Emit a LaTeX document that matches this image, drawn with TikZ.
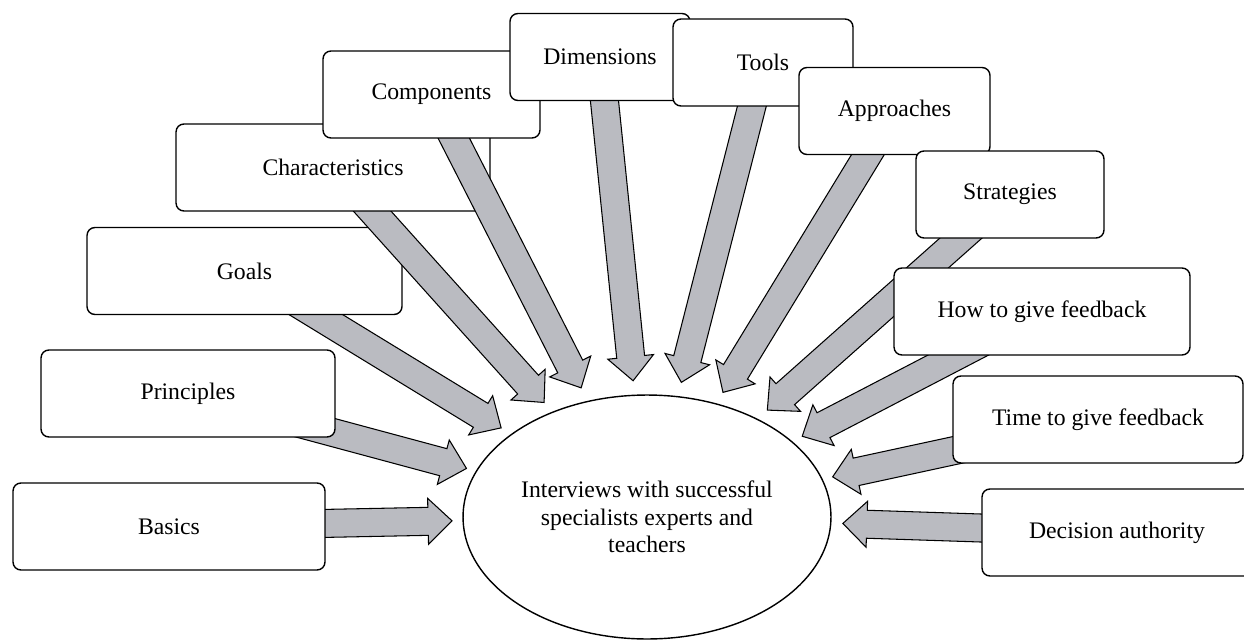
\documentclass[tikz,border=0pt]{standalone}
\usepackage{fontspec}
\setmainfont{Liberation Serif}
\usetikzlibrary{shapes.geometric,calc}

\definecolor{arrowgray}{RGB}{186,187,193}

% fat arrow from #1 towards node #2, tip #3 away from the centre of #2
\newcommand{\feedarrow}[3]{%
  \coordinate (tip) at ($(#2.center)!#3!(#1)$);
  \coordinate (neck) at ($(tip)!0.48cm!(#1)$);
  \draw[feed] ($(#1)!0.28cm!90:(tip)$) -- ($(neck)!0.28cm!90:(tip)$)
      -- ($(neck)!0.46cm!90:(tip)$) -- (tip)
      -- ($(neck)!0.46cm!-90:(tip)$) -- ($(neck)!0.28cm!-90:(tip)$)
      -- ($(#1)!0.28cm!-90:(tip)$) -- cycle;
}

\begin{document}
\begin{tikzpicture}[
           x = 0.02cm, y = -0.02cm,
        font = \fontsize{13.5}{15.6}\selectfont,
 topic/.style = {rectangle, draw, fill=white, rounded corners=4.5pt,
                 line width=0.8pt, minimum height=1.74cm},
   hub/.style = {ellipse, draw, fill=white, line width=0.8pt,
                 minimum width=7.36cm, minimum height=4.88cm,
                 inner sep=0pt, align=center},
  feed/.style = {draw, fill=arrowgray, line width=0.6pt, line join=miter}
                    ]
\useasboundingbox (0,0) rectangle (1244,639);
%
\node (Interviews) [hub] at (647,517)
    {Interviews with successful\\specialists experts and\\teachers};
% left half
\coordinate (basics) at (169,526.5);
\feedarrow{basics}{Interviews}{3.90cm}
\node (Basics) [topic, minimum width=6.24cm] at (basics) {Basics};
\coordinate (principles) at (188,393.5);
\feedarrow{principles}{Interviews}{3.74cm}
\node (Principles) [topic, minimum width=5.88cm] at (principles) {Principles};
\coordinate (goals) at (244.5,271);
\feedarrow{goals}{Interviews}{3.42cm}
\node (Goals) [topic, minimum width=6.30cm] at (goals) {Goals};
\coordinate (characteristics) at (333,167.5);
\feedarrow{characteristics}{Interviews}{3.08cm}
\node (Characteristics) [topic, minimum width=6.28cm] at (characteristics) {Characteristics};
\coordinate (components) at (431.5,94.5);
\feedarrow{components}{Interviews}{2.90cm}
\node (Components) [topic, minimum width=4.34cm] at (components) {Components};
\coordinate (dimensions) at (600,57);
\feedarrow{dimensions}{Interviews}{2.74cm}
\node (Dimensions) [topic, minimum width=3.60cm] at (dimensions) {Dimensions};
% right half
\coordinate (tools) at (763,62.5);
\feedarrow{tools}{Interviews}{2.78cm}
\node (Tools) [topic, minimum width=3.60cm] at (tools) {Tools};
\coordinate (approaches) at (894.5,111);
\feedarrow{approaches}{Interviews}{2.92cm}
\node (Approaches) [topic, minimum width=3.82cm] at (approaches) {Approaches};
\coordinate (strategies) at (1010,194.5);
\feedarrow{strategies}{Interviews}{3.22cm}
\node (Strategies) [topic, minimum width=3.76cm] at (strategies) {Strategies};
\coordinate (howto) at (1042,311.5);
\feedarrow{howto}{Interviews}{3.50cm}
\node (HowTo) [topic, minimum width=5.92cm] at (howto) {How to give feedback};
\coordinate (timeto) at (1098,419.5);
\feedarrow{timeto}{Interviews}{3.80cm}
\node (TimeTo) [topic, minimum width=5.80cm] at (timeto) {Time to give feedback};
\coordinate (decision) at (1117,532.5);
\feedarrow{decision}{Interviews}{3.92cm}
\node (Decision) [topic, minimum width=5.40cm] at (decision) {Decision authority};
\end{tikzpicture}
\end{document}
